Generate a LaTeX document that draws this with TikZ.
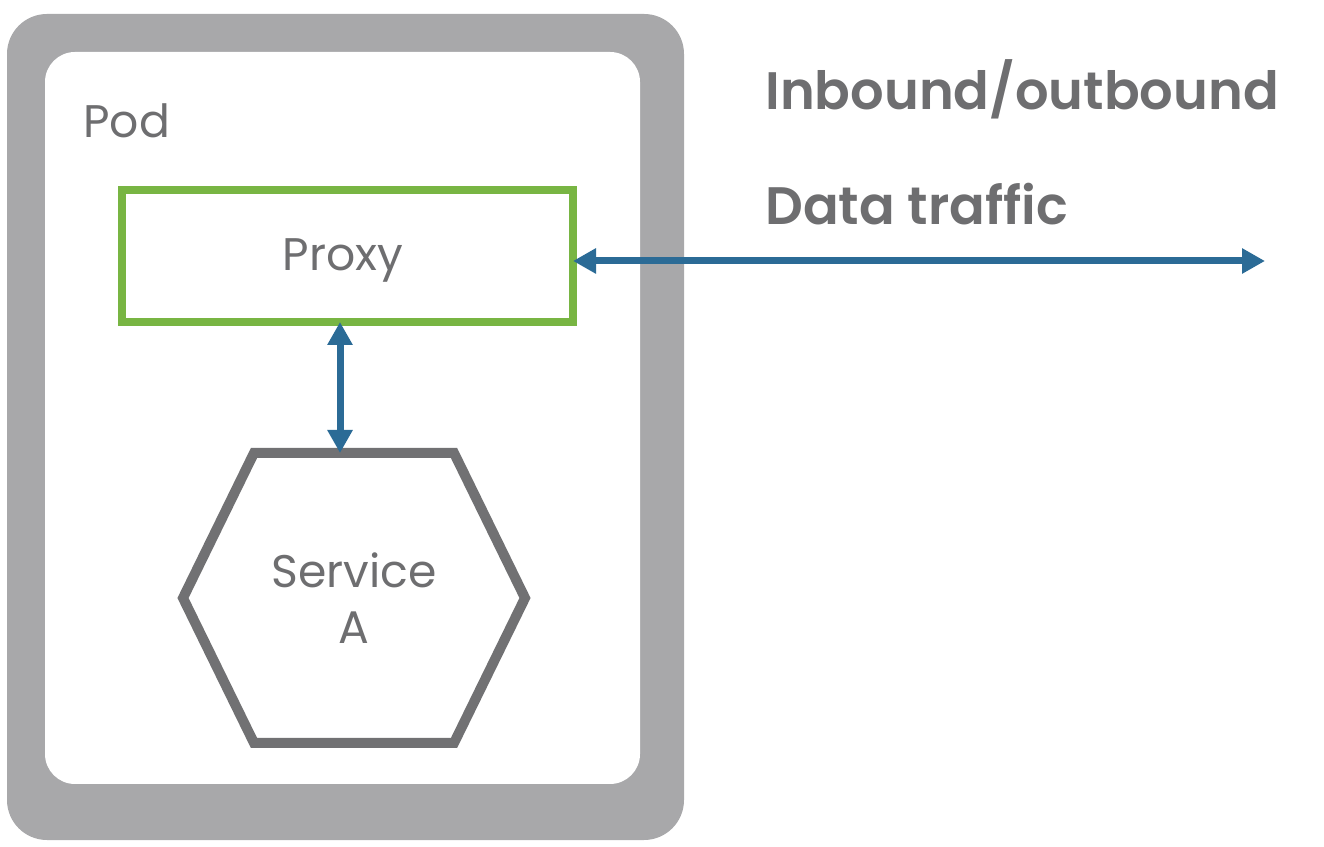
\documentclass[tikz,border=0pt]{standalone}
\usepackage{fontspec}
\setmainfont{Poppins}[BoldFont={Poppins SemiBold}]
\usepackage{tikz}
\usetikzlibrary{arrows.meta,positioning,calc}
\usepackage{xcolor}
\definecolor{podgray}{HTML}{A8A8AA}
\definecolor{hexgray}{HTML}{717173}
\definecolor{txtgray}{HTML}{6E6E70}
\definecolor{proxygreen}{HTML}{78B543}
\definecolor{flowblue}{HTML}{2B6B96}
\tikzset{
  label/.style={text=txtgray, font=\fontsize{26}{32}\selectfont, inner sep=0pt},
  heading/.style={text=txtgray, font=\fontsize{30}{36}\selectfont\bfseries, inner sep=0pt, anchor=base west},
  proxybox/.style={draw=proxygreen, line width=0.16cm, minimum width=9.02cm,
                   minimum height=2.64cm, outer sep=0pt, fill=white},
  hexline/.style={draw=hexgray, line width=0.2cm, line join=miter},
  flow/.style={{Triangle[length=0.46cm,width=0.48cm]}-{Triangle[length=0.46cm,width=0.48cm]},
               line width=0.14cm, flowblue},
}

\begin{document}
\begin{tikzpicture}
  \useasboundingbox (0,0) rectangle (26.48,16.92);
  % Pod frame
  \fill[podgray, rounded corners=0.8cm] (0.14,0.12) rectangle (13.68,16.64);
  \fill[white, rounded corners=0.6cm] (0.9,1.24) rectangle (12.8,15.88);
  \node[label, anchor=base west] (pod) at (1.66,14.16) {Pod};

  % Proxy
  \node[proxybox] (proxy) at (6.95,11.8) {};
  \node[label] (proxytxt) at (6.86,11.72) {Proxy};

  % Service A (hexagon)
  \node[label, align=center] (svc) at (7.08,4.96) {Service\\A};
  \coordinate (svctop) at ($(svc)+(0,2.9)$);
  \draw[hexline] ($(svc)+(-3.42,0)$) -- ($(svc)+(-2.0,2.9)$) -- ($(svc)+(2.0,2.9)$)
    -- ($(svc)+(3.42,0)$) -- ($(svc)+(2.0,-2.9)$) -- ($(svc)+(-2.0,-2.9)$) -- cycle;

  % Traffic labels
  \node[heading] (inb) at (15.3,14.72) {Inbound/outbound};
  \node[heading] (data) at (15.3,12.42) {Data traffic};

  % Arrows
  \coordinate (vx) at (6.8,0);
  \coordinate (out) at (25.3,11.7);
  \draw[flow] (proxy.south -| vx) -- (svctop -| vx);
  \draw[flow] (proxy.east |- out) -- (out);
\end{tikzpicture}
\end{document}
